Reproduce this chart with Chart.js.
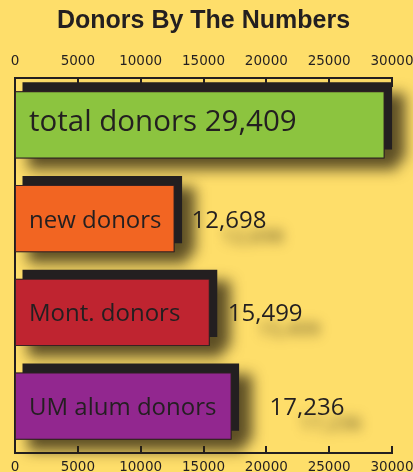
<!DOCTYPE html>
<html>
<head>
<meta charset="utf-8">
<script src="https://cdn.jsdelivr.net/npm/chart.js@4"></script>
<style>
  html, body { margin: 0; padding: 0; background: #fede6a; }
  canvas { display: block; }
</style>
</head>
<body>
<canvas id="chart" width="413" height="472"></canvas>
<script>
// data
const categories = ['total donors', 'new donors', 'Mont. donors', 'UM alum donors'];
const donors = [29409, 12698, 15499, 17236];
const barColors = ['#8cc43f', '#f26522', '#bf2430', '#92278f'];
const axisTicks = [0, 5000, 10000, 15000, 20000, 25000, 30000];

const ink = '#231f20';
const valueGap = [0, 17, 18, 38]; // space between bar end and its number
const fmt = v => v.toLocaleString('en-US');

// black offset block, soft drop shadow, inward tick marks and blurred number ghosts
const barDecor = {
    id: 'barDecor',
    beforeDatasetsDraw(chart) {
        const { ctx, chartArea, scales: { x } } = chart;
        ctx.save();
        ctx.strokeStyle = ink;
        ctx.lineWidth = 2;
        axisTicks.forEach(v => {
            const px = Math.round(x.getPixelForValue(v));
            ctx.beginPath();
            ctx.moveTo(px, chartArea.top);
            ctx.lineTo(px, chartArea.top + 9);
            ctx.moveTo(px, chartArea.bottom);
            ctx.lineTo(px, chartArea.bottom - 7);
            ctx.stroke();
        });

        chart.getDatasetMeta(0).data.forEach((bar, i) => {
            const { x: right, y, base, height } = bar.getProps(['x', 'y', 'base', 'height'], true);
            const top = y - height / 2;
            if (i > 0) {
                ctx.save();
                ctx.filter = 'blur(6px)';
                ctx.fillStyle = 'rgba(60,50,25,0.85)';
                ctx.font = '20px "Open Sans"';
                ctx.fillText(fmt(donors[i]), right + valueGap[i] + 30, y + 24);
                ctx.restore();
            }
            ctx.save();
            ctx.shadowColor = 'rgba(40,32,15,0.75)';
            ctx.shadowBlur = 14;
            ctx.shadowOffsetX = 13;
            ctx.shadowOffsetY = 11;
            ctx.fillStyle = ink;
            ctx.beginPath();
            ctx.rect(base, top, right - base, height);
            ctx.rect(base + 7.5, top - 9, right - base, height);
            ctx.fill();
            ctx.restore();
        });
        ctx.restore();
    },
    afterDatasetsDraw(chart) {
        const { ctx } = chart;
        ctx.save();
        ctx.fillStyle = ink;
        ctx.textAlign = 'left';
        ctx.textBaseline = 'alphabetic';
        chart.getDatasetMeta(0).data.forEach((bar, i) => {
            const { x: right, y, base } = bar.getProps(['x', 'y', 'base'], true);
            if (i === 0) {
                ctx.font = '29.5px "Open Sans"';
                ctx.fillText(categories[i] + ' ' + fmt(donors[i]), base + 14, y + 6);
            } else {
                ctx.font = '24px "Open Sans"';
                ctx.fillText(categories[i], base + 14, y + 9);
                ctx.fillText(fmt(donors[i]), right + valueGap[i], y + 9);
            }
        });
        ctx.restore();
    }
};

const tickFont = { family: 'DejaVu Sans', size: 13.5 };
const setTicks = s => { s.ticks = axisTicks.map(v => ({ value: v })); };
const plain = v => String(v);
const fitX = h => s => { s.height = h; s.paddingLeft = 0; s.paddingRight = 0; };

new Chart(document.getElementById('chart'), {
    type: 'bar',
    data: {
        labels: categories,
        datasets: [{
            data: donors,
            backgroundColor: barColors,
            borderColor: '#3a2222',
            borderWidth: 1,
            borderSkipped: false,
            barPercentage: 0.715,
            categoryPercentage: 1
        }]
    },
    options: {
        indexAxis: 'y',
        responsive: false,
        animation: false,
        layout: { padding: { left: 15, right: 21, top: 0, bottom: 0 } },
        scales: {
            x: {
                type: 'linear',
                position: 'top',
                min: 0,
                max: 30000,
                afterBuildTicks: setTicks,
                ticks: { font: tickFont, color: ink, padding: 8, maxRotation: 0, autoSkip: false, callback: plain },
                grid: { display: false, drawTicks: false },
                border: { display: true, color: ink, width: 2 },
                afterFit: fitX(42)
            },
            x2: {
                type: 'linear',
                position: 'bottom',
                display: true,
                min: 0,
                max: 30000,
                afterBuildTicks: setTicks,
                ticks: { font: tickFont, color: ink, padding: 6, maxRotation: 0, autoSkip: false, callback: plain },
                grid: { display: false, drawTicks: false },
                border: { display: true, color: ink, width: 2 },
                afterFit: fitX(19)
            },
            y: {
                type: 'category',
                ticks: { display: false },
                grid: { display: false, drawTicks: false },
                border: { display: true, color: ink, width: 2 },
                afterFit: s => { s.width = 0; }
            }
        },
        plugins: {
            legend: { display: false },
            tooltip: { enabled: false },
            title: {
                display: true,
                text: 'Donors By The Numbers',
                color: ink,
                font: { family: 'Liberation Sans', size: 25, weight: 'bold' },
                padding: { top: 6, bottom: 0 }
            }
        }
    },
    plugins: [barDecor]
});
</script>
</body>
</html>
